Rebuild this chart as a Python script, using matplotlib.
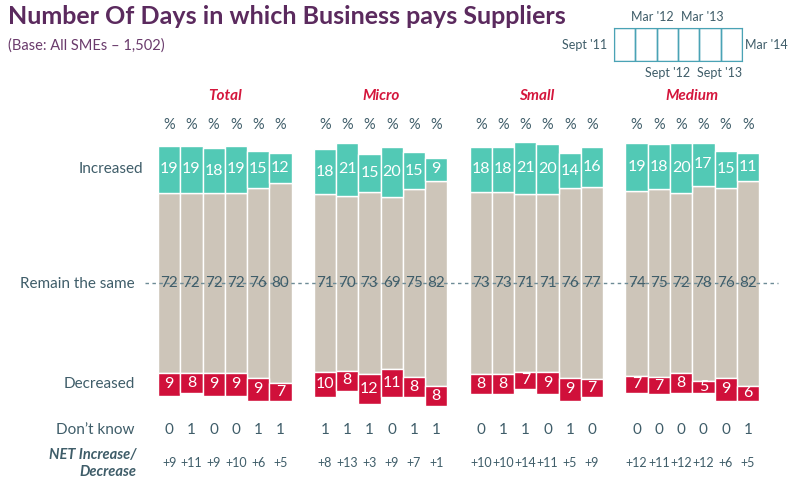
import matplotlib
matplotlib.use('Agg')
import matplotlib.pyplot as plt
from matplotlib.patches import Rectangle

plt.rcParams['font.family'] = ['Lato', 'DejaVu Sans']

# data
groups = ['Total', 'Micro', 'Small', 'Medium']
waves = ["Sept '11", "Mar '12", "Sept '12", "Mar '13", "Sept '13", "Mar '14"]

increased = {
    'Total': [19, 19, 18, 19, 15, 12],
    'Micro': [18, 21, 15, 20, 15, 9],
    'Small': [18, 18, 21, 20, 14, 16],
    'Medium': [19, 18, 20, 17, 15, 11],
}
remain = {
    'Total': [72, 72, 72, 72, 76, 80],
    'Micro': [71, 70, 73, 69, 75, 82],
    'Small': [73, 73, 71, 71, 76, 77],
    'Medium': [74, 75, 72, 78, 76, 82],
}
decreased = {
    'Total': [9, 8, 9, 9, 9, 7],
    'Micro': [10, 8, 12, 11, 8, 8],
    'Small': [8, 8, 7, 9, 9, 7],
    'Medium': [7, 7, 8, 5, 9, 6],
}
dont_know = {
    'Total': [0, 1, 0, 0, 1, 1],
    'Micro': [1, 1, 1, 0, 1, 1],
    'Small': [0, 1, 1, 0, 1, 0],
    'Medium': [0, 0, 0, 0, 0, 1],
}
net = {
    'Total': ['+9', '+11', '+9', '+10', '+6', '+5'],
    'Micro': ['+8', '+13', '+3', '+9', '+7', '+1'],
    'Small': ['+10', '+10', '+14', '+11', '+5', '+9'],
    'Medium': ['+12', '+11', '+12', '+12', '+6', '+5'],
}

TEAL = '#52c9b5'
GREY = '#cdc5b9'
RED = '#d0103a'
SLATE = '#3f5d69'
PURPLE = '#5b2a5e'

W, H = 791, 479
fig = plt.figure(figsize=(W / 100, H / 100), dpi=100)

# one axes over the whole figure: x in bar slots, y in percent (0 = middle of the grey block)
px_per_bar = 22.26
px_per_pct = 2.5
left_px = 158
mid_px = 283
ax = fig.add_axes([0, 0, 1, 1])
ax.set_xlim(-0.5 - left_px / px_per_bar, -0.5 + (W - left_px) / px_per_bar)
ax.set_ylim(-(H - mid_px) / px_per_pct, mid_px / px_per_pct)
ax.axis('off')


def px_x(p):
    return -0.5 + (p - left_px) / px_per_bar


def px_y(p):
    return (mid_px - p) / px_per_pct


# dashed "remain the same" line
ax.plot([px_x(145), px_x(778)], [0, 0], ls=(0, (2.5, 2.5)), color='#6d8b96', lw=1, zorder=3)

for g, name in enumerate(groups):
    xs = [g * 7 + i for i in range(6)]
    inc = increased[name]
    rem = remain[name]
    dec = decreased[name]
    mid_bottom = [-r / 2 for r in rem]
    mid_top = [r / 2 for r in rem]
    ax.bar(xs, rem, bottom=mid_bottom, width=1, color=GREY, edgecolor='white', lw=1, zorder=2)
    ax.bar(xs, inc, bottom=mid_top, width=1, color=TEAL, edgecolor='white', lw=1, zorder=2)
    ax.bar(xs, dec, bottom=[b - d for b, d in zip(mid_bottom, dec)], width=1, color=RED,
           edgecolor='white', lw=1, zorder=2)

    for x, i, r, d, t, b, dk, n in zip(xs, inc, rem, dec, mid_top, mid_bottom, dont_know[name], net[name]):
        ax.text(x, t + i / 2, str(i), ha='center', va='center', color='white', fontsize=11.5, zorder=4)
        ax.text(x, 0, str(r), ha='center', va='center', color=SLATE, fontsize=11, zorder=4)
        ax.text(x, b - d / 2, str(d), ha='center', va='center', color='white', fontsize=11.5, zorder=4)
        ax.text(x, px_y(125), '%', ha='center', va='center', color=SLATE, fontsize=10.5)
        ax.text(x, px_y(430), str(dk), ha='center', va='center', color=SLATE, fontsize=11)
        ax.text(x, px_y(463), n, ha='center', va='center', color=SLATE, fontsize=9)

    ax.text(xs[0] + 2.5, px_y(96), name, ha='center', va='center', color='#d4163c',
            fontsize=11, fontweight='bold', fontstyle='italic')

# row labels
ax.text(px_x(143), px_y(169), 'Increased', ha='right', va='center', color=SLATE, fontsize=11)
ax.text(px_x(135), px_y(284), 'Remain the same', ha='right', va='center', color=SLATE, fontsize=11)
ax.text(px_x(135), px_y(384), 'Decreased', ha='right', va='center', color=SLATE, fontsize=11)
ax.text(px_x(134), px_y(430), 'Don\u2019t know', ha='right', va='center', color=SLATE, fontsize=11)
ax.text(px_x(136), px_y(455), 'NET Increase/', ha='right', va='center', color=SLATE,
        fontsize=10.5, fontweight='bold', fontstyle='italic')
ax.text(px_x(136), px_y(472), 'Decrease', ha='right', va='center', color=SLATE,
        fontsize=10.5, fontweight='bold', fontstyle='italic')

# title and base
fig.text(8 / W, 1 - 16 / H, 'Number Of Days in which Business pays Suppliers', ha='left', va='center',
         color=PURPLE, fontsize=18, fontweight='bold')
fig.text(8 / W, 1 - 46 / H, '(Base: All SMEs \u2013 1,502)', ha='left', va='center',
         color='#6a3b6c', fontsize=10.5)

# wave key in the top right
key = fig.add_axes([614 / W, 1 - 61 / H, 128 / W, 33 / H])
key.set_xlim(0, len(waves))
key.set_ylim(0, 1)
for i in range(len(waves)):
    key.add_patch(Rectangle((i, 0), 1, 1, fill=False, edgecolor='#4aa3b5', lw=1))
key.set_xticks([])
key.set_yticks([])
for s in key.spines.values():
    s.set_color('#4aa3b5')
key_font = dict(color=SLATE, fontsize=9, va='center')
fig.text(607 / W, 1 - 45 / H, waves[0], ha='right', **key_font)
fig.text(652 / W, 1 - 17 / H, waves[1], ha='center', **key_font)
fig.text(668 / W, 1 - 73 / H, waves[2], ha='center', **key_font)
fig.text(702 / W, 1 - 17 / H, waves[3], ha='center', **key_font)
fig.text(720 / W, 1 - 73 / H, waves[4], ha='center', **key_font)
fig.text(745 / W, 1 - 45 / H, waves[5], ha='left', **key_font)

fig.savefig('out.png', dpi=100)
